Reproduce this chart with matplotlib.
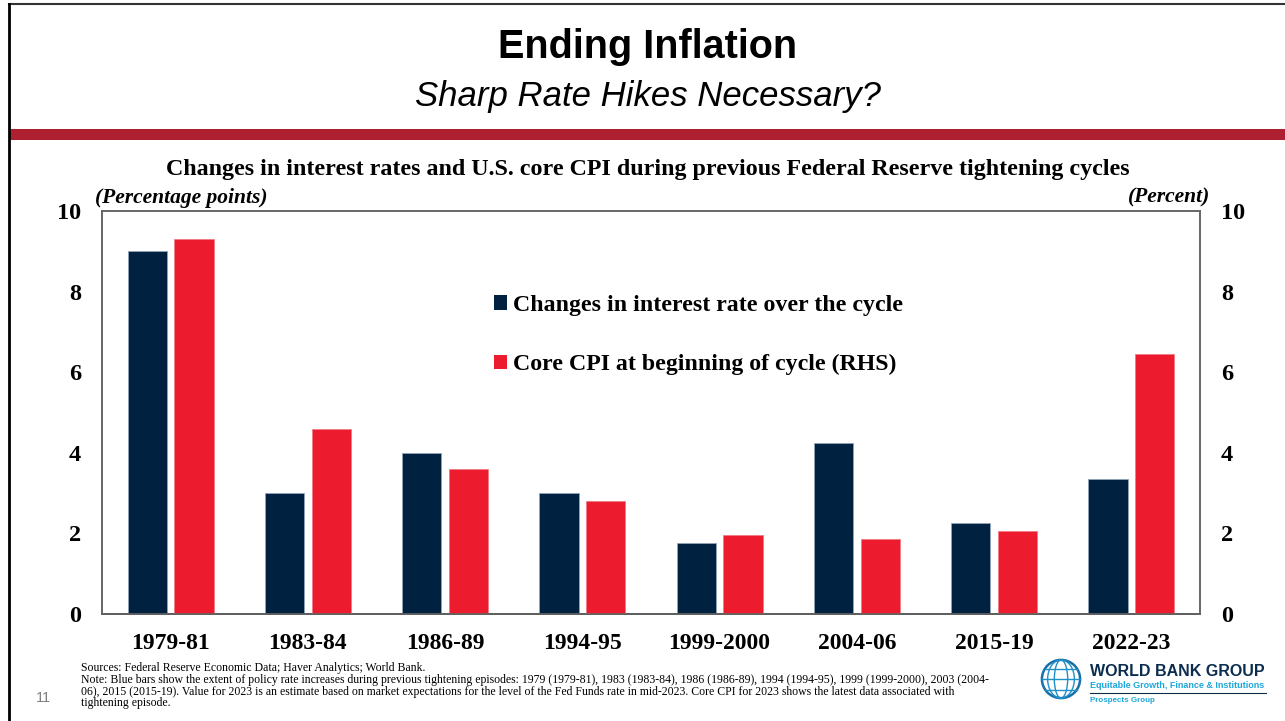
import numpy as np
import matplotlib.pyplot as plt
from matplotlib.patches import Rectangle, Circle, Ellipse
from matplotlib.lines import Line2D

# Datos
ciclos = ["1979-81", "1983-84", "1986-89", "1994-95", "1999-2000", "2004-06", "2015-19", "2022-23"]
cambio_tasa = [9.0, 3.0, 4.0, 3.0, 1.75, 4.25, 2.25, 3.35]
cpi_subyacente = [9.3, 4.6, 3.6, 2.8, 1.95, 1.87, 2.07, 6.45]

azul = "#00213f"
rojo = "#ec1c2e"
serif = "Liberation Serif"

plt.rcParams["font.family"] = serif

fig = plt.figure(figsize=(12.85, 7.21), dpi=100)

# Marco de la diapositiva
fig.add_artist(Line2D([0.007, 1.0], [0.994, 0.994], transform=fig.transFigure, color="#333333", lw=1.5))
fig.add_artist(Line2D([0.007, 0.007], [0.0, 0.994], transform=fig.transFigure, color="black", lw=2))
fig.add_artist(Rectangle((0.008, 1 - 140 / 721), 0.992, 11 / 721, transform=fig.transFigure,
                         color="#ae1f2f", lw=0))

# Títulos
fig.text(0.504, 0.935, "Ending Inflation", ha="center", va="center", fontsize=28.5,
         fontweight="bold", family=["Liberation Sans Narrow", "Liberation Sans"])
fig.text(0.504, 0.866, "Sharp Rate Hikes Necessary?", ha="center", va="center", fontsize=25,
         style="italic", family=["Liberation Sans Narrow", "Liberation Sans"])
fig.text(0.504, 0.765, "Changes in interest rates and U.S. core CPI during previous Federal Reserve tightening cycles",
         ha="center", va="center", fontsize=17.3, fontweight="bold")

# Ejes
ax = fig.add_axes([102 / 1285, 107 / 721, 1098 / 1285, 403 / 721])
ax2 = ax.twinx()

x = np.arange(len(ciclos))
ancho = 0.285
ax.bar(x - 0.17, cambio_tasa, ancho, color=azul, edgecolor="#8fa3b8", lw=0.6,
       label="Changes in interest rate over the cycle")
ax2.bar(x + 0.17, cpi_subyacente, ancho, color=rojo, edgecolor="#f07a85", lw=0.6,
        label="Core CPI at beginning of cycle (RHS)")

for a in (ax, ax2):
    a.set_ylim(0, 10)
    a.set_yticks([0, 2, 4, 6, 8, 10])
    a.tick_params(axis="y", length=0, pad=15, labelsize=17.5)
    for t in a.get_yticklabels():
        t.set_fontweight("bold")
    for s in a.spines.values():
        s.set_color("#666666")
        s.set_linewidth(1.2)
ax.spines["bottom"].set_color("#222222")
ax.set_xlim(-0.5, len(ciclos) - 0.5)
ax.set_xticks(x)
ax.set_xticklabels(ciclos, fontsize=17, fontweight="bold")
ax.tick_params(axis="x", length=0, pad=14)

ax.text(-0.006, 1.008, "(Percentage points)", transform=ax.transAxes, ha="left", va="bottom",
        fontsize=15.5, fontweight="bold", style="italic")
ax.text(1.009, 1.008, "(Percent)", transform=ax.transAxes, ha="right", va="bottom",
        fontsize=15.5, fontweight="bold", style="italic")

# Leyenda
h1, l1 = ax.get_legend_handles_labels()
h2, l2 = ax2.get_legend_handles_labels()
leg = ax2.legend(h1 + h2, l1 + l2, loc="upper left", bbox_to_anchor=(0.337, 0.845), frameon=False,
                 prop={"family": serif, "weight": "bold", "size": 17.2}, handlelength=0.55,
                 handleheight=0.55, handletextpad=0.25, labelspacing=1.6)
for h in leg.legend_handles:
    h.set_edgecolor("none")

# Notas
notas = [
    "Sources: Federal Reserve Economic Data; Haver Analytics; World Bank.",
    "Note: Blue bars show the extent of policy rate increases during previous tightening episodes: 1979 (1979-81), 1983 (1983-84), 1986 (1986-89), 1994 (1994-95), 1999 (1999-2000), 2003 (2004-",
    "06), 2015 (2015-19). Value for 2023 is an estimate based on market expectations for the level of the Fed Funds rate in mid-2023. Core CPI for 2023 shows the latest data associated with",
    "tightening episode.",
]
for i, linea in enumerate(notas):
    fig.text(81 / 1285, 1 - (671 + i * 11.8) / 721, linea, ha="left", va="baseline", fontsize=8.5)
fig.text(43 / 1285, 1 - 698 / 721, "11", ha="center", va="center", fontsize=10.5, color="#7f7f7f",
         family="Liberation Sans")

# Logo (aproximado)
lax = fig.add_axes([1040 / 1285, 18 / 721, 42 / 1285, 48 / 721])
lax.set_xlim(-1.1, 1.1)
lax.set_ylim(-1.1, 1.1)
lax.set_aspect("equal")
lax.axis("off")
lax.add_patch(Circle((0, 0), 1, fill=False, ec="#1a6fa8", lw=1.8))
for w in (0.35, 0.7):
    lax.add_patch(Ellipse((0, 0), 2 * w, 2, fill=False, ec="#1f8fc9", lw=1))
lax.plot([-1, 1], [0, 0], color="#1f8fc9", lw=1)
for yy in (-0.55, 0.55):
    hw = np.sqrt(1 - yy ** 2)
    lax.plot([-hw, hw], [yy, yy], color="#1f8fc9", lw=1)
fig.text(1090 / 1285, 1 - 671 / 721, "WORLD BANK GROUP", ha="left", va="center", fontsize=11.5,
         fontweight="bold", color="#0b2d4f", family="Liberation Sans")
fig.text(1090 / 1285, 1 - 686 / 721, "Equitable Growth, Finance & Institutions", ha="left", va="center",
         fontsize=6.5, fontweight="bold", color="#1ea7d8", family="Liberation Sans")
fig.add_artist(Line2D([1090 / 1285, 1266 / 1285], [1 - 693 / 721, 1 - 693 / 721],
                      transform=fig.transFigure, color="#0b2d4f", lw=0.8))
fig.text(1090 / 1285, 1 - 701 / 721, "Prospects Group", ha="left", va="center", fontsize=5.8,
         fontweight="bold", color="#1ea7d8", family="Liberation Sans")

fig.savefig("out.png", dpi=100)
